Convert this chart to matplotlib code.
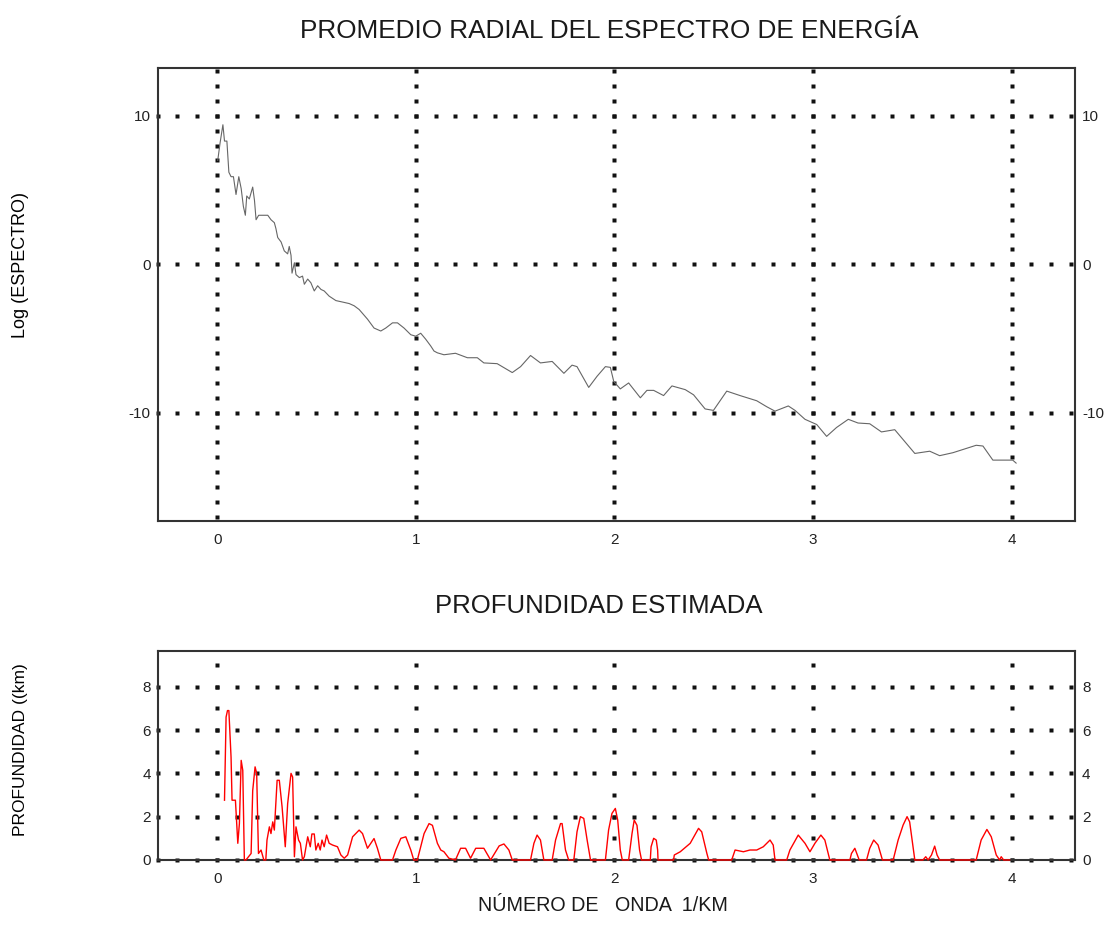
import numpy as np
import matplotlib.pyplot as plt

plt.rcParams['font.family'] = ['Liberation Sans', 'DejaVu Sans']
plt.rcParams['axes.unicode_minus'] = False

# espectro radial (log)
k_spec = [0.003, 0.015, 0.029, 0.037, 0.049, 0.059, 0.070, 0.082, 0.095, 0.109, 0.121, 0.132,
          0.142, 0.149, 0.162, 0.179, 0.188, 0.196, 0.209, 0.229, 0.255, 0.271, 0.288, 0.296,
          0.305, 0.322, 0.338, 0.355, 0.363, 0.372, 0.377, 0.389, 0.397, 0.414, 0.430, 0.439,
          0.456, 0.472, 0.489, 0.506, 0.523, 0.539, 0.564, 0.598, 0.632, 0.665, 0.690, 0.715,
          0.757, 0.790, 0.824, 0.849, 0.883, 0.908, 0.941, 0.975, 1.000, 1.025, 1.050, 1.075,
          1.092, 1.109, 1.142, 1.200, 1.260, 1.310, 1.343, 1.410, 1.486, 1.528, 1.578, 1.628,
          1.687, 1.746, 1.787, 1.812, 1.871, 1.913, 1.955, 1.980, 1.997, 2.030, 2.072, 2.131,
          2.164, 2.198, 2.248, 2.290, 2.357, 2.399, 2.457, 2.499, 2.566, 2.633, 2.717, 2.767,
          2.809, 2.876, 2.910, 2.960, 3.019, 3.069, 3.119, 3.178, 3.227, 3.286, 3.345, 3.412,
          3.513, 3.588, 3.638, 3.705, 3.822, 3.856, 3.906, 4.006, 4.023]
log_spec = [7.0, 8.2, 9.4, 8.3, 8.3, 6.2, 5.9, 5.9, 4.7, 5.9, 5.1, 3.9,
            3.3, 4.6, 4.4, 5.2, 4.3, 3.0, 3.3, 3.3, 3.3, 3.0, 2.8, 2.4,
            1.8, 1.5, 0.9, 0.7, 1.2, 0.6, -0.6, 0.1, -0.7, -0.9, -0.8, -1.35,
            -1.0, -1.25, -1.8, -1.45, -1.7, -1.8, -2.15, -2.45, -2.55, -2.65, -2.8, -3.05,
            -3.7, -4.3, -4.5, -4.3, -3.95, -3.95, -4.3, -4.75, -4.85, -4.65, -5.05, -5.5,
            -5.85, -5.97, -6.1, -6.0, -6.3, -6.3, -6.65, -6.7, -7.3, -6.9, -6.15, -6.65,
            -6.55, -7.35, -6.8, -6.9, -8.3, -7.55, -6.9, -6.95, -7.9, -8.4, -8.0, -9.0,
            -8.5, -8.5, -8.85, -8.2, -8.45, -8.8, -9.75, -9.85, -8.55, -8.85, -9.2, -9.6,
            -9.9, -9.55, -9.85, -10.45, -10.8, -11.6, -11.0, -10.45, -10.7, -10.75, -11.3, -11.15,
            -12.75, -12.6, -12.9, -12.7, -12.2, -12.25, -13.2, -13.2, -13.4]

# profundidad estimada
k_prof = [0.037, 0.045, 0.052, 0.059, 0.070, 0.075, 0.092, 0.104, 0.112, 0.121, 0.129, 0.137,
          0.145, 0.171, 0.179, 0.191, 0.199, 0.208, 0.221, 0.235, 0.245, 0.251, 0.263, 0.271,
          0.280, 0.288, 0.302, 0.313, 0.327, 0.343, 0.355, 0.372, 0.380, 0.389, 0.397, 0.410,
          0.419, 0.430, 0.439, 0.456, 0.469, 0.477, 0.489, 0.497, 0.509, 0.519, 0.528, 0.539,
          0.551, 0.564, 0.581, 0.606, 0.623, 0.640, 0.657, 0.682, 0.715, 0.732, 0.757, 0.774,
          0.790, 0.807, 0.824, 0.883, 0.900, 0.925, 0.950, 0.975, 0.990, 1.008, 1.042, 1.067,
          1.084, 1.109, 1.126, 1.142, 1.167, 1.200, 1.226, 1.251, 1.276, 1.302, 1.343, 1.377,
          1.420, 1.444, 1.469, 1.486, 1.578, 1.595, 1.611, 1.628, 1.645, 1.687, 1.704, 1.729,
          1.737, 1.754, 1.770, 1.796, 1.812, 1.829, 1.846, 1.863, 1.880, 1.955, 1.971, 1.988,
          2.005, 2.017, 2.030, 2.040, 2.072, 2.089, 2.100, 2.114, 2.127, 2.137, 2.181, 2.185,
          2.198, 2.211, 2.218, 2.220, 2.298, 2.302, 2.332, 2.382, 2.424, 2.440, 2.466, 2.475,
          2.591, 2.608, 2.650, 2.683, 2.717, 2.750, 2.784, 2.800, 2.809, 2.868, 2.884, 2.926,
          2.960, 2.985, 3.010, 3.040, 3.060, 3.085, 3.186, 3.194, 3.211, 3.233, 3.270, 3.286,
          3.306, 3.328, 3.350, 3.404, 3.429, 3.454, 3.474, 3.487, 3.504, 3.513, 3.554, 3.568,
          3.580, 3.597, 3.613, 3.625, 3.638, 3.822, 3.847, 3.876, 3.898, 3.923, 3.940, 3.948,
          3.960, 3.990]
prof = [2.76, 6.6, 6.9, 6.9, 4.75, 2.76, 2.76, 0.77, 1.68, 4.6, 4.14, 0.0,
        0.0, 0.3, 3.2, 4.3, 4.0, 0.3, 0.46, 0.0, 0.0, 0.92, 1.53, 1.22,
        1.76, 1.38, 3.68, 3.68, 2.45, 0.61, 2.6, 4.0, 3.83, 0.15, 1.53, 0.92,
        0.77, 0.0, 0.15, 1.07, 0.61, 1.2, 1.2, 0.46, 0.77, 0.46, 0.92, 0.61,
        1.15, 0.77, 0.69, 0.61, 0.23, 0.08, 0.23, 1.07, 1.38, 1.22, 0.54, 0.77,
        0.99, 0.54, 0.0, 0.0, 0.46, 1.0, 1.07, 0.46, 0.0, 0.0, 1.22, 1.68,
        1.6, 0.77, 0.46, 0.38, 0.08, 0.0, 0.54, 0.54, 0.08, 0.54, 0.54, 0.0,
        0.65, 0.74, 0.46, 0.0, 0.0, 0.77, 1.15, 0.92, 0.0, 0.0, 0.92, 1.68,
        1.68, 0.46, 0.0, 0.0, 1.3, 2.0, 1.92, 0.92, 0.0, 0.0, 1.38, 2.15,
        2.38, 1.84, 0.46, 0.0, 0.0, 1.22, 1.84, 1.6, 0.46, 0.0, 0.0, 0.61,
        1.0, 0.92, 0.46, 0.0, 0.0, 0.23, 0.38, 0.77, 1.46, 1.3, 0.3, 0.0,
        0.0, 0.46, 0.38, 0.46, 0.46, 0.61, 0.92, 0.69, 0.0, 0.0, 0.46, 1.15,
        0.77, 0.38, 0.77, 1.15, 0.92, 0.0, 0.0, 0.3, 0.54, 0.0, 0.0, 0.54,
        0.92, 0.69, 0.0, 0.0, 0.92, 1.61, 2.0, 1.76, 0.61, 0.0, 0.0, 0.15,
        0.0, 0.23, 0.64, 0.23, 0.0, 0.0, 0.92, 1.41, 1.07, 0.23, 0.0, 0.15,
        0.0, 0.0]

xticks = [0, 1, 2, 3, 4]
yticks_spec = [10, 0, -10]
yticks_prof = [0, 2, 4, 6, 8]

fig = plt.figure(figsize=(11.12, 9.25), dpi=100)
ax1 = fig.add_axes([0.1417, 0.4368, 0.8251, 0.4893])
ax2 = fig.add_axes([0.1417, 0.0703, 0.8251, 0.2259])

xlim = (-0.30, 4.32)


def dotted_grid(ax, xs, ys, ylim, ystep):
    # rejilla de puntos cuadrados, como en el original
    gx = np.arange(-0.3, 4.35, 0.1)
    for y in ys:
        ax.plot(gx, np.full_like(gx, y), ls='none', marker='s', ms=2.2,
                color='#111111', mec='none', zorder=1, clip_on=False)
    gy = np.arange(np.ceil(ylim[0]), ylim[1], ystep)
    for x in xs:
        ax.plot(np.full_like(gy, x), gy, ls='none', marker='s', ms=2.2,
                color='#111111', mec='none', zorder=1)


def style(ax, yticks, ylim):
    ax.set_xlim(*xlim)
    ax.set_ylim(*ylim)
    ax.set_xticks(xticks)
    ax.set_yticks(yticks)
    ax.tick_params(length=0, labelsize=11, pad=6, colors='#222222')
    ax.tick_params(axis='y', right=True, labelright=True, pad=5)
    ax.tick_params(axis='x', pad=9)
    for s in ax.spines.values():
        s.set_color('#333333')
        s.set_linewidth(1.5)


ylim1 = (-17.3, 13.2)
dotted_grid(ax1, xticks, yticks_spec, ylim1, 1)
ax1.plot(k_spec, log_spec, color='#666666', lw=0.8, zorder=3)
style(ax1, yticks_spec, ylim1)

ylim2 = (0, 9.65)
dotted_grid(ax2, xticks, yticks_prof, ylim2, 1)
ax2.plot(k_prof, prof, color='red', lw=1.0, zorder=3, clip_on=False)
style(ax2, yticks_prof, ylim2)

fig.text(0.548, 0.967, 'PROMEDIO RADIAL DEL ESPECTRO DE ENERGÍA', ha='center', va='center',
         fontsize=18.8, color='#1a1a1a')
fig.text(0.538, 0.345, 'PROFUNDIDAD ESTIMADA', ha='center', va='center', fontsize=18.5, color='#1a1a1a')
fig.text(0.542, 0.011, 'NÚMERO DE   ONDA  1/KM', ha='center', va='bottom', fontsize=14.2, color='#1a1a1a')
fig.text(0.018, 0.714, 'Log (ESPECTRO)', ha='center', va='center', rotation=90, fontsize=13)
fig.text(0.018, 0.19, 'PROFUNDIDAD ((km)', ha='center', va='center', rotation=90, fontsize=12.5)

fig.savefig('out.png', dpi=100)
